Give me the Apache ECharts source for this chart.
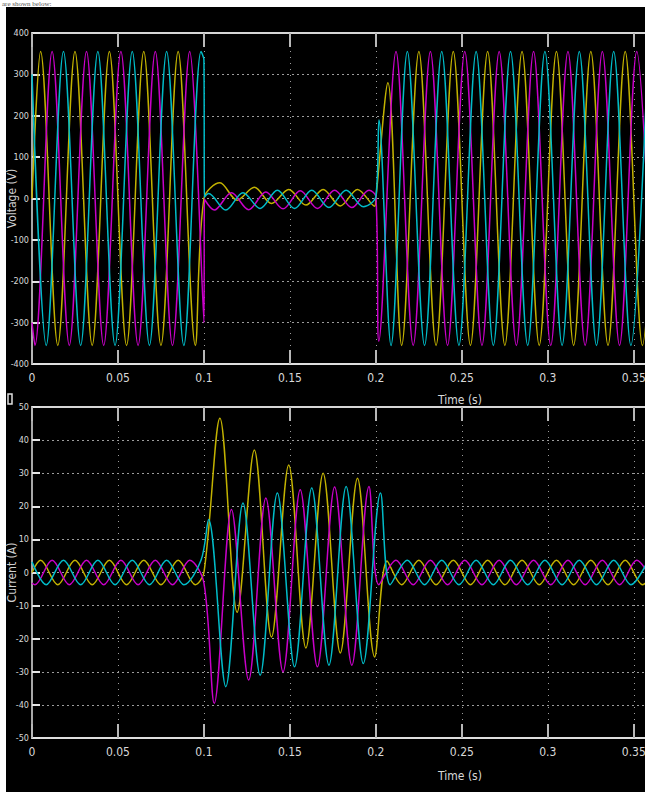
<!DOCTYPE html>
<html><head><meta charset="utf-8">
<script src="https://cdn.jsdelivr.net/npm/echarts@6/dist/echarts.min.js"></script>
<style>html,body{margin:0;padding:0;background:#fff;overflow:hidden}#c{width:645px;height:792px}</style>
</head><body><div id="c"></div>
<script>
// ---- axis ticks ----
const timeTicks = [0, 0.05, 0.1, 0.15, 0.2, 0.25, 0.3, 0.35];
const timeMax = 0.36;
const voltTicks = [-400, -300, -200, -100, 0, 100, 200, 300, 400];
const currTicks = [-50, -40, -30, -20, -10, 0, 10, 20, 30, 40, 50];
const phaseColors = ['#c2b200', '#c800c8', '#00bcc8'];

// ---- voltage (V): [time s, value] at crests/troughs read from the scope ----
const voltA = [[0,0],[0.005,355],[0.015,-355],[0.025,355],[0.035,-355],[0.045,355],[0.055,-355],[0.065,355],[0.075,-355],[0.085,355],[0.095,-355],[0.1,0],[0.1093,38],[0.1193,-4],[0.1293,27],[0.1393,-12],[0.1493,22],[0.1593,-16],[0.1693,22],[0.1793,-18],[0.1893,22],[0.1993,-18.5],[0.2,0],[0.207,280],[0.215,-355],[0.225,355],[0.235,-355],[0.245,355],[0.255,-355],[0.265,355],[0.275,-355],[0.285,355],[0.295,-355],[0.305,355],[0.315,-355],[0.325,355],[0.335,-355],[0.345,355],[0.355,-355],[0.365,355]];
const voltB = [[0,-300],[0.0017,-355],[0.0117,355],[0.0217,-355],[0.0317,355],[0.0417,-355],[0.0517,355],[0.0617,-355],[0.0717,355],[0.0817,-355],[0.0917,355],[0.1,-300],[0.1003,-2],[0.106,-28],[0.116,14],[0.126,-27],[0.136,16],[0.146,-25],[0.156,18.5],[0.166,-24],[0.176,20],[0.186,-22],[0.196,20],[0.2,5],[0.2017,-345],[0.2117,355],[0.2217,-355],[0.2317,355],[0.2417,-355],[0.2517,355],[0.2617,-355],[0.2717,355],[0.2817,-355],[0.2917,355],[0.3017,-355],[0.3117,355],[0.3217,-355],[0.3317,355],[0.3417,-355],[0.3517,355],[0.3617,-355]];
const voltC = [[0,300],[0.0083,-355],[0.0183,355],[0.0283,-355],[0.0383,355],[0.0483,-355],[0.0583,355],[0.0683,-355],[0.0783,355],[0.0883,-355],[0.0983,355],[0.1,335],[0.1003,3],[0.1027,12],[0.1127,-28],[0.1227,14],[0.1327,-24],[0.1427,20],[0.1527,-24],[0.1627,20],[0.1727,-22],[0.1827,20],[0.1927,-20],[0.2,5],[0.2018,190],[0.2088,-355],[0.2183,355],[0.2283,-355],[0.2383,355],[0.2483,-355],[0.2583,355],[0.2683,-355],[0.2783,355],[0.2883,-355],[0.2983,355],[0.3083,-355],[0.3183,355],[0.3283,-355],[0.3383,355],[0.3483,-355],[0.3583,355]];

// ---- current (A) ----
const currA = [[0,0],[0.005,3.7],[0.015,-3.7],[0.025,3.7],[0.035,-3.7],[0.045,3.7],[0.055,-3.7],[0.065,3.7],[0.075,-3.7],[0.085,3.7],[0.095,-3.7],[0.1,0],[0.1093,46.6],[0.1193,-12],[0.1293,37],[0.1393,-19.5],[0.1493,32.5],[0.1593,-22.8],[0.1693,30],[0.1793,-24.3],[0.1893,28.5],[0.1993,-25.5],[0.2065,3.5],[0.215,-3.7],[0.225,3.7],[0.235,-3.7],[0.245,3.7],[0.255,-3.7],[0.265,3.7],[0.275,-3.7],[0.285,3.7],[0.295,-3.7],[0.305,3.7],[0.315,-3.7],[0.325,3.7],[0.335,-3.7],[0.345,3.7],[0.355,-3.7],[0.365,3.7]];
const currB = [[0,-3.2],[0.0017,-3.7],[0.0117,3.7],[0.0217,-3.7],[0.0317,3.7],[0.0417,-3.7],[0.0517,3.7],[0.0617,-3.7],[0.0717,3.7],[0.0817,-3.7],[0.0917,3.7],[0.1,-3.2],[0.106,-39.5],[0.116,19],[0.126,-32.5],[0.136,22.5],[0.146,-30],[0.156,25],[0.166,-28.5],[0.176,25.8],[0.186,-28],[0.196,26],[0.2017,-3.7],[0.2117,3.7],[0.2217,-3.7],[0.2317,3.7],[0.2417,-3.7],[0.2517,3.7],[0.2617,-3.7],[0.2717,3.7],[0.2817,-3.7],[0.2917,3.7],[0.3017,-3.7],[0.3117,3.7],[0.3217,-3.7],[0.3317,3.7],[0.3417,-3.7],[0.3517,3.7],[0.3617,-3.7]];
const currC = [[0,3.2],[0.0083,-3.7],[0.0183,3.7],[0.0283,-3.7],[0.0383,3.7],[0.0483,-3.7],[0.0583,3.7],[0.0683,-3.7],[0.0783,3.7],[0.0883,-3.7],[0.0983,3.7],[0.1027,16],[0.1127,-34.5],[0.1227,21],[0.1327,-31],[0.1427,24],[0.1527,-28.5],[0.1627,25.5],[0.1727,-28],[0.1827,26],[0.1927,-27.5],[0.2027,24],[0.2083,-3.7],[0.2183,3.7],[0.2283,-3.7],[0.2383,3.7],[0.2483,-3.7],[0.2583,3.7],[0.2683,-3.7],[0.2783,3.7],[0.2883,-3.7],[0.2983,3.7],[0.3083,-3.7],[0.3183,3.7],[0.3283,-3.7],[0.3383,3.7],[0.3483,-3.7],[0.3583,3.7]];

const font = "'Liberation Sans Narrow','DejaVu Sans Condensed',sans-serif";
const tStep = timeTicks[1] - timeTicks[0];

function fmtTime(v) {
  const r = Math.round(v * 100) / 100;
  return timeTicks.some(t => Math.abs(t - r) < 1e-9) && Math.abs(v - r) < 1e-6 ? String(r) : '';
}

function bottomX(g) {
  return {
    type: 'value', gridIndex: g, position: 'bottom',
    min: timeTicks[0], max: timeMax, interval: tStep,
    axisLine: { show: true, onZero: false, lineStyle: { color: '#dedede', width: 2 } },
    axisTick: { show: true, inside: true, length: 14, lineStyle: { color: '#b8b8b8', width: 2 } },
    axisLabel: { show: true, color: '#d8d8d8', fontSize: 12, fontFamily: font, margin: 8,
                 showMaxLabel: false, formatter: fmtTime },
    splitLine: { show: true, lineStyle: { color: '#9c9c9c', width: 1, type: [1, 5] } }
  };
}
function topX(g) {
  return {
    type: 'value', gridIndex: g, position: 'top',
    min: timeTicks[0], max: timeMax, interval: tStep,
    axisLine: { show: true, onZero: false, lineStyle: { color: '#d6d6d6', width: 2 } },
    axisTick: { show: true, inside: true, length: 14, lineStyle: { color: '#b8b8b8', width: 2 } },
    axisLabel: { show: false }, splitLine: { show: false }
  };
}
function leftY(g, ticks, name) {
  return {
    type: 'value', gridIndex: g,
    min: ticks[0], max: ticks[ticks.length - 1], interval: ticks[1] - ticks[0],
    name: name, nameLocation: 'middle', nameGap: 14, nameMoveOverlap: false,
    nameTextStyle: { color: '#cfcfcf', fontSize: 12, fontFamily: font },
    axisLine: { show: true, onZero: false, lineStyle: { color: '#a8a8a8', width: 2 } },
    axisTick: { show: true, inside: true, length: 8, lineStyle: { color: '#e4e4e4', width: 2 } },
    axisLabel: { color: '#d8d8d8', fontSize: 9, fontFamily: font, margin: 3 },
    splitLine: { show: true, lineStyle: { color: '#9c9c9c', width: 1, type: [2, 3] } }
  };
}
function line(data, color, xi, yi) {
  return {
    type: 'line', data: data, xAxisIndex: xi, yAxisIndex: yi,
    showSymbol: false, smooth: 0.33, clip: true, animation: false,
    lineStyle: { color: color, width: 1.5 }, itemStyle: { color: color }
  };
}

const chart = echarts.init(document.getElementById('c'), null, { renderer: 'svg' });
chart.setOption({
  animation: false,
  backgroundColor: '#ffffff',
  grid: [
    { left: 32, top: 33, width: 619, height: 331, containLabel: false, outerBoundsMode: 'none' },
    { left: 32, top: 407, width: 619, height: 331, containLabel: false, outerBoundsMode: 'none' }
  ],
  xAxis: [bottomX(0), topX(0), bottomX(1), topX(1)],
  yAxis: [leftY(0, voltTicks, 'Voltage (V)'), leftY(1, currTicks, 'Current (A)')],
  graphic: [
    { type: 'rect', z: -100, silent: true, shape: { x: 6, y: 7, width: 639, height: 785 }, style: { fill: '#000' } },
    { type: 'text', z: 100, x: 2, y: 0, style: { text: 'are shown below:', fill: '#555', fontSize: 7, fontFamily: 'Liberation Serif', align: 'left', verticalAlign: 'top' } },
    { type: 'text', z: 100, x: 460, y: 400, style: { text: 'Time (s)', fill: '#d8d8d8', fontSize: 12, fontFamily: font, align: 'center', verticalAlign: 'middle' } },
    { type: 'text', z: 100, x: 460, y: 776, style: { text: 'Time (s)', fill: '#d8d8d8', fontSize: 12, fontFamily: font, align: 'center', verticalAlign: 'middle' } },
    { type: 'rect', z: 100, silent: true, shape: { x: 8, y: 394, width: 4, height: 10 }, style: { fill: 'none', stroke: '#e0e0e0', lineWidth: 1.5 } }
  ],
  series: [
    line(voltA, phaseColors[0], 0, 0),
    line(voltB, phaseColors[1], 0, 0),
    line(voltC, phaseColors[2], 0, 0),
    line(currA, phaseColors[0], 2, 1),
    line(currB, phaseColors[1], 2, 1),
    line(currC, phaseColors[2], 2, 1)
  ]
});
</script></body></html>
